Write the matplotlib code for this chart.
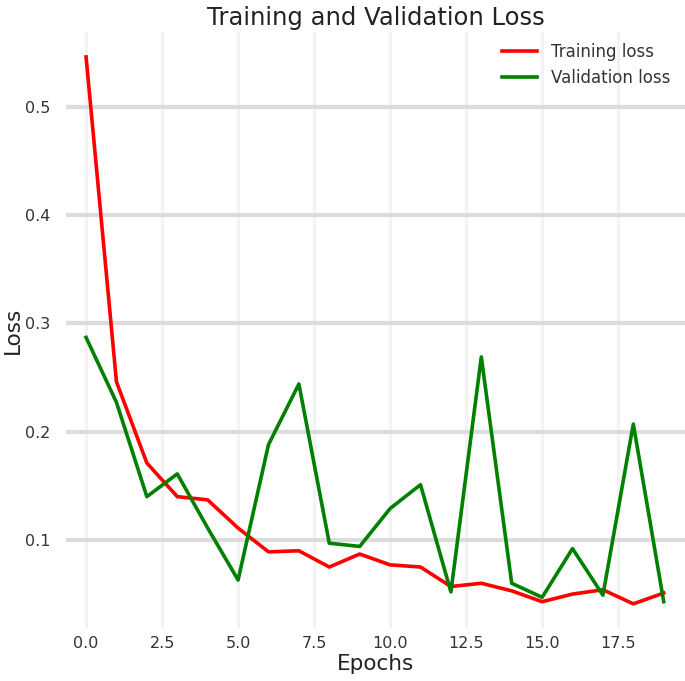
import numpy as np
import matplotlib
matplotlib.use('Agg')
import matplotlib.pyplot as plt

# values
epochs = list(range(20))
train_loss = [0.546, 0.246, 0.171, 0.140, 0.137, 0.111, 0.089, 0.090, 0.075, 0.087,
              0.077, 0.075, 0.057, 0.060, 0.053, 0.043, 0.050, 0.054, 0.041, 0.051]
val_loss = [0.287, 0.227, 0.140, 0.161, 0.111, 0.063, 0.188, 0.244, 0.097, 0.094,
            0.129, 0.151, 0.052, 0.269, 0.060, 0.047, 0.092, 0.049, 0.207, 0.043]
xticks = [0, 2.5, 5, 7.5, 10, 12.5, 15, 17.5]
yticks = [0.1, 0.2, 0.3, 0.4, 0.5]

fig = plt.figure(figsize=(6.85, 6.81), dpi=100)
ax = fig.add_axes([66/685, 53/681, 619/685, 596/681])

ax.plot(epochs, train_loss, color='red', lw=2.6, label='Training loss')
ax.plot(epochs, val_loss, color='green', lw=2.6, label='Validation loss')

ax.set_xlim(-0.66, 19.7)
ax.set_ylim(0.0187, 0.569)
ax.set_xticks(xticks)
ax.set_xticklabels([f'{t:.1f}' for t in xticks])
ax.set_yticks(yticks)
ax.set_yticklabels([f'{t:.1f}' for t in yticks])

for s in ax.spines.values():
    s.set_visible(False)
ax.tick_params(axis='both', length=0, labelsize=11.5, labelcolor='#333333')
ax.tick_params(axis='y', pad=11)
ax.tick_params(axis='x', pad=6)
ax.yaxis.grid(True, color='#dcdcdc', lw=3)
ax.xaxis.grid(True, color='#f3f3f3', lw=2.2)
ax.set_axisbelow(True)

ax.set_title('Training and Validation Loss', fontsize=17.5, color='#222222', pad=5)
ax.set_xlabel('Epochs', fontsize=15.5, color='#222222', labelpad=2)
ax.set_ylabel('Loss', fontsize=15.5, color='#222222', labelpad=2)

ax.legend(loc='upper right', frameon=False, fontsize=12, handlelength=2.1,
          bbox_to_anchor=(1.0, 1.007), labelcolor='#333333')

fig.savefig('out.png', dpi=100)
